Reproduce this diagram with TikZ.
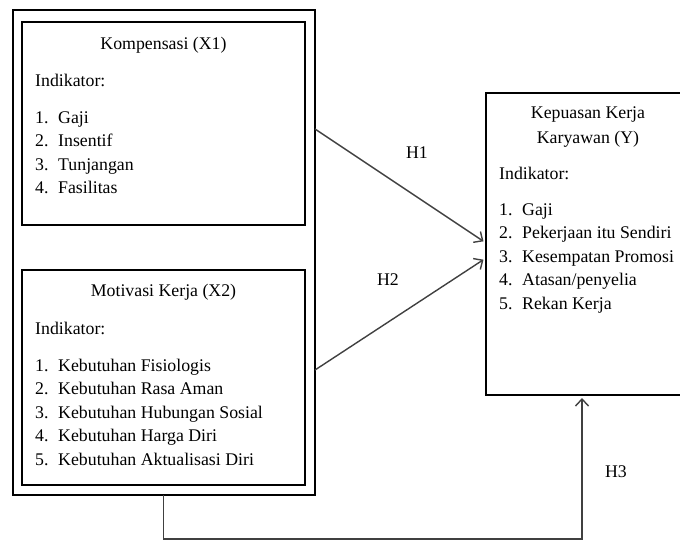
\documentclass[tikz,border=0pt]{standalone}
\usepackage{fontspec}
\setmainfont{Liberation Serif}
\usetikzlibrary{arrows.meta,positioning}

\newcommand{\butir}[2]{\makebox[23pt][l]{#1.}#2}

\begin{document}
\begin{tikzpicture}[x=1pt,y=-1pt,->,>={Straight Barb[length=7pt,width=13pt]},
  shorten >=3pt,font=\fontsize{17.8}{23.5}\selectfont]
  \tikzstyle{kotak}=[draw,line width=2.4pt,outer sep=0pt,inner sep=0pt]
  \tikzstyle{teks}=[inner sep=0pt,align=left,anchor=base west]
  \tikzstyle{judul}=[inner sep=0pt,align=center,anchor=base]
  \tikzstyle{panah}=[draw=black!75,line width=1.4pt]

  \useasboundingbox (0,0) rectangle (680,541);

  \node[kotak,line width=2pt,minimum width=302.5pt,minimum height=485.5pt] (luar) at (163.75,252.25) {};
  \node[kotak,minimum width=283pt,minimum height=203pt] (komp) at (163.5,123.5) {};
  \node[kotak,minimum width=283pt,minimum height=215pt] (motiv) at (163.5,377.5) {};
  \node[kotak,line width=2pt,minimum width=197pt,minimum height=302pt] (kepuasan) at (584.5,244) {};

  % base anchor = baseline of the last line
  \node[judul] (kompJ) at (163.5,49) {Kompensasi (X1)};
  \node[teks] (kompI) at (35,193.5) {Indikator:\\[13.5pt]\butir{1}{Gaji}\\\butir{2}{Insentif}\\
    \butir{3}{Tunjangan}\\\butir{4}{Fasilitas}};

  \node[judul] (motivJ) at (163.5,296) {Motivasi Kerja (X2)};
  \node[teks] (motivI) at (35,465) {Indikator:\\[13.5pt]\butir{1}{Kebutuhan Fisiologis}\\
    \butir{2}{Kebutuhan Rasa Aman}\\\butir{3}{Kebutuhan Hubungan Sosial}\\
    \butir{4}{Kebutuhan Harga Diri}\\\butir{5}{Kebutuhan Aktualisasi Diri}};

  \node[judul] (kepuasanJ) at (588,143) {Kepuasan Kerja\\[1.5pt]Karyawan (Y)};
  \node[teks] (kepuasanI) at (499,309) {Indikator:\\[12.5pt]\butir{1}{Gaji}\\
    \butir{2}{Pekerjaan itu Sendiri}\\\butir{3}{Kesempatan Promosi}\\
    \butir{4}{Atasan/penyelia}\\\butir{5}{Rekan Kerja}};

  \node (h1) at (417,153) {H1};
  \node (h2) at (388,280) {H2};
  \node (h3) at (616,472) {H3};

  \draw[panah] ([yshift=123.25pt]luar.east) -- ([yshift=1pt]kepuasan.west);
  \draw[panah] ([yshift=-117.75pt]luar.east) -- ([yshift=-14pt]kepuasan.west);
  \draw[panah] (luar.south) -- ++(0,44) -| ([xshift=-2.5pt]kepuasan.south);
\end{tikzpicture}
\end{document}
